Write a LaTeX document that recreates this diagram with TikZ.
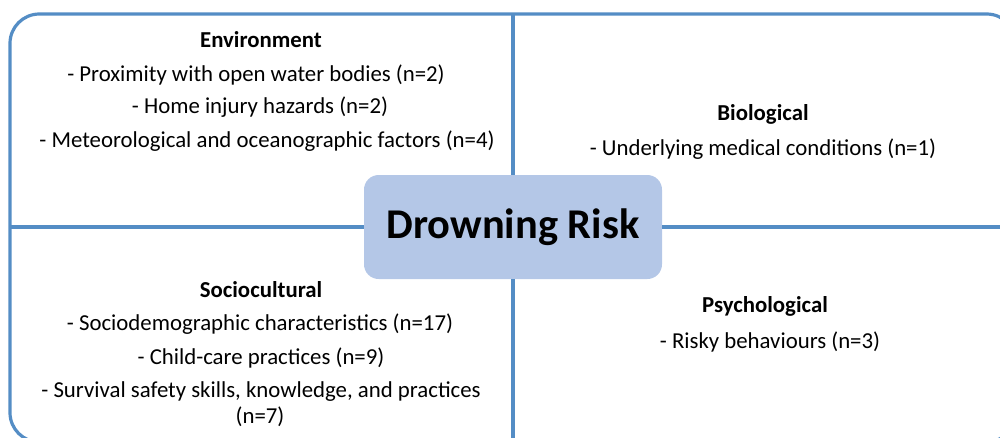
\documentclass[tikz,border=0pt]{standalone}
\usepackage{fontspec}
\setmainfont{Carlito}
\definecolor{lineblue}{RGB}{84,141,197}
\definecolor{boxfill}{RGB}{180,199,231}
\begin{document}
\begin{tikzpicture}[x=0.75pt,y=-0.75pt,
  frame/.style={draw=lineblue,line width=2.4pt},
  conn/.style={draw=lineblue,line width=2.4pt},
  head/.style={font=\fontsize{17.1}{20}\selectfont\bfseries,inner sep=0pt},
  item/.style={font=\fontsize{17.1}{20}\selectfont,inner sep=0pt},
  hub/.style={fill=boxfill,rounded corners=11pt,minimum width=223.5pt,minimum height=78pt,inner sep=0pt,font=\fontsize{31.8}{36}\selectfont\bfseries}]
\useasboundingbox (0,0) rectangle (1000,437);
\begin{scope}
\clip (0,0) rectangle (1000,437);
\draw[frame,rounded corners=22pt] (10,14) rectangle (1016,442);
\node[hub] (hub) at (513,227) {Drowning Risk};
\coordinate (top) at (513,14);
\coordinate (bottom) at (513,445);
\coordinate (left) at (10,227);
\coordinate (right) at (1005,227);
\draw[conn] (hub.north) -- (top);
\draw[conn] (hub.south) -- (bottom);
\draw[conn] (hub.west) -- (left);
\draw[conn] (hub.east) -- (right);
\end{scope}
% Environment
\node[head] (envh) at (261,39.5) {Environment};
\node[item] (env1) at (256,74.5) {- Proximity with open water bodies (n=2)};
\node[item] (env2) at (260,107.5) {- Home injury hazards (n=2)};
\node[item] (env3) at (267,141.5) {- Meteorological and oceanographic factors (n=4)};
% Biological
\node[head] (bioh) at (763,114.5) {Biological};
\node[item] (bio1) at (763,149.5) {- Underlying medical conditions (n=1)};
% Sociocultural
\node[head] (soch) at (261,289.5) {Sociocultural};
\node[item] (soc1) at (260,324.5) {- Sociodemographic characteristics (n=17)};
\node[item] (soc2) at (261,357.5) {- Child-care practices (n=9)};
\node[item] (soc3) at (261,391.5) {- Survival safety skills, knowledge, and practices};
\node[item] (soc4) at (260,416.5) {(n=7)};
% Psychological
\node[head] (psyh) at (765,306.5) {Psychological};
\node[item] (psy1) at (770,341.5) {- Risky behaviours (n=3)};
\end{tikzpicture}
\end{document}
